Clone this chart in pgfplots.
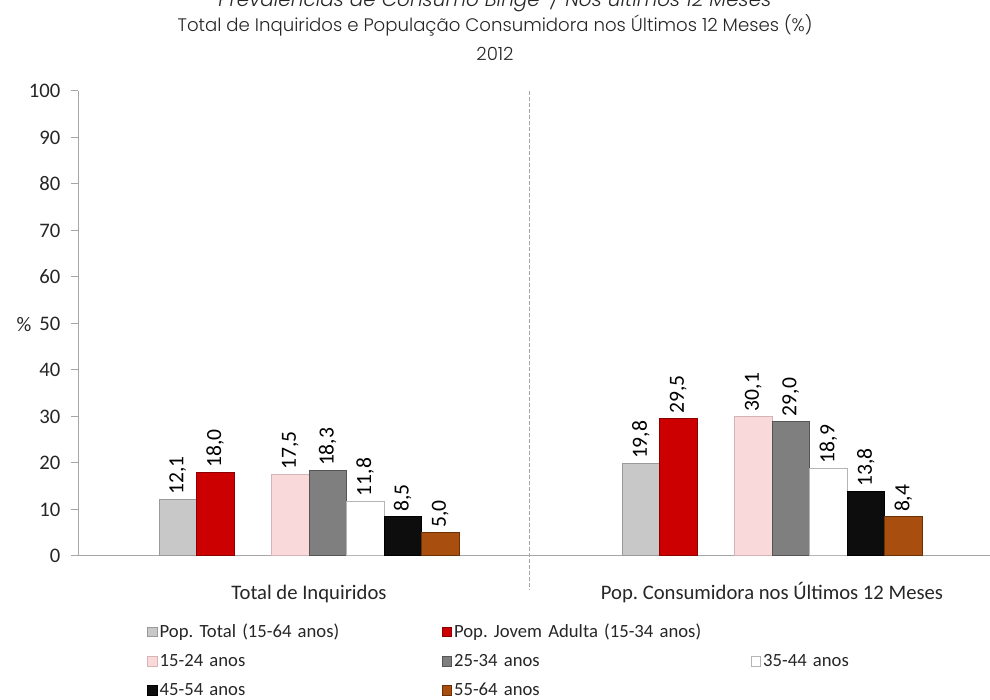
\documentclass[border=0pt]{standalone}
\usepackage{pgfplots}
\pgfplotsset{compat=1.18}
\usepackage{fontspec}
\setmainfont{Carlito}
\newfontfamily\titlefont{Poppins Light}
\definecolor{textgray}{HTML}{262626}
\definecolor{axgray}{HTML}{A6A6A6}
\definecolor{cA}{HTML}{C8C8C8}\definecolor{cAd}{HTML}{9A9A9A}
\definecolor{cB}{HTML}{CC0000}\definecolor{cBd}{HTML}{8C0000}
\definecolor{cC}{HTML}{F9D9D9}\definecolor{cCd}{HTML}{D4B4B4}
\definecolor{cD}{HTML}{7F7F7F}\definecolor{cDd}{HTML}{555555}
\definecolor{cE}{HTML}{FFFFFF}\definecolor{cEd}{HTML}{B5B5B5}
\definecolor{cF}{HTML}{0D0D0D}\definecolor{cFd}{HTML}{000000}
\definecolor{cG}{HTML}{A84E0F}\definecolor{cGd}{HTML}{6B3006}
\begin{document}
\frenchspacing
\begin{tikzpicture}
\path[use as bounding box] (0,0) rectangle (742.5pt,525pt);
\begin{axis}[
  at={(58.5pt,108pt)}, anchor=south west,
  scale only axis, width=684pt, height=348.75pt,
  xmin=0, xmax=912, ymin=0, ymax=100,
  /pgf/number format/assume math mode=true,
  axis lines*=left,
  axis line style={axgray, line width=0.75pt},
  ytick={0,10,...,100},
  tick align=outside, major tick length=5.25pt,
  ytick style={axgray, line width=0.75pt},
  xtick={231,694},
  xticklabels={Total de Inquiridos, Pop. Consumidora nos Últimos 12 Meses},
  xtick style={draw=none},
  tick label style={font=\fontsize{15.5}{18}\selectfont, color=textgray},
  xticklabel style={anchor=base, yshift=-27.75pt},
  yticklabel style={xshift=-4.5pt},
  clip=false,
  ybar, bar width=37.5, bar shift=0pt,
  nodes near coords={\pgfmathprintnumber[fixed,fixed zerofill,precision=1,use comma,assume math mode=true]{\pgfplotspointmeta}},
  every node near coord/.append style={rotate=90, anchor=west, font=\fontsize{16.2}{18}\selectfont, color=black},
  legend image code/.code={\draw[#1, line width=0.6pt] (0pt,-3.6pt) rectangle (7.2pt,3.6pt);},
  legend columns=3,
  legend cell align=left,
  legend style={draw=none, fill=none, at={(0.0713,-0.140)}, anchor=north west,
    font=\fontsize{14}{16.5}\selectfont, text=textgray,
    nodes={inner xsep=1.5pt, inner ysep=0pt},
    row sep=11pt,
    /tikz/column 2/.style={text width=210pt},
    /tikz/column 4/.style={text width=221pt},
    /tikz/column 6/.style={text width=90pt}},
]
\addplot[fill=cA, draw=cAd, line width=0.75pt] coordinates {(99.75,12.1) (562.75,19.8)};
\addlegendentry{Pop. Total (15-64 anos)}
\addplot[fill=cB, draw=cBd, line width=0.75pt] coordinates {(137.25,18.0) (600.25,29.5)};
\addlegendentry{Pop. Jovem Adulta (15-34 anos)}
\addlegendimage{empty legend}
\addlegendentry{}
\addplot[fill=cC, draw=cCd, line width=0.75pt] coordinates {(212.25,17.5) (675.25,30.1)};
\addlegendentry{15-24 anos}
\addplot[fill=cD, draw=cDd, line width=0.75pt] coordinates {(249.75,18.3) (712.75,29.0)};
\addlegendentry{25-34 anos}
\addplot[fill=cE, draw=cEd, line width=0.75pt] coordinates {(287.25,11.8) (750.25,18.9)};
\addlegendentry{35-44 anos}
\addplot[fill=cF, draw=cFd, line width=0.75pt] coordinates {(324.75,8.5) (787.75,13.8)};
\addlegendentry{45-54 anos}
\addplot[fill=cG, draw=cGd, line width=0.75pt] coordinates {(362.25,5.0) (825.25,8.4)};
\addlegendentry{55-64 anos}
\draw[axgray, line width=0.75pt, dash pattern=on 3pt off 1.5pt] (axis cs:451,100) -- (axis cs:451,-7.3);
\end{axis}
\node[font=\fontsize{15.5}{18}\selectfont, color=textgray] at (18pt,281.25pt) {\%};
\node[font=\titlefont\fontsize{13.6}{16}\selectfont, color=textgray] at (371.25pt,506.25pt) {Total de Inquiridos e População Consumidora nos Últimos 12 Meses (\%)};
\node[font=\titlefont\fontsize{13.6}{16}\selectfont, color=textgray] at (371.25pt,484.5pt) {2012};
\node[font=\titlefont\itshape\fontsize{15}{17}\selectfont, color=textgray, anchor=base] at (371.25pt,519.75pt) {Prevalências de Consumo Binge\textsuperscript{1} / Nos últimos 12 Meses};
\end{tikzpicture}
\end{document}
